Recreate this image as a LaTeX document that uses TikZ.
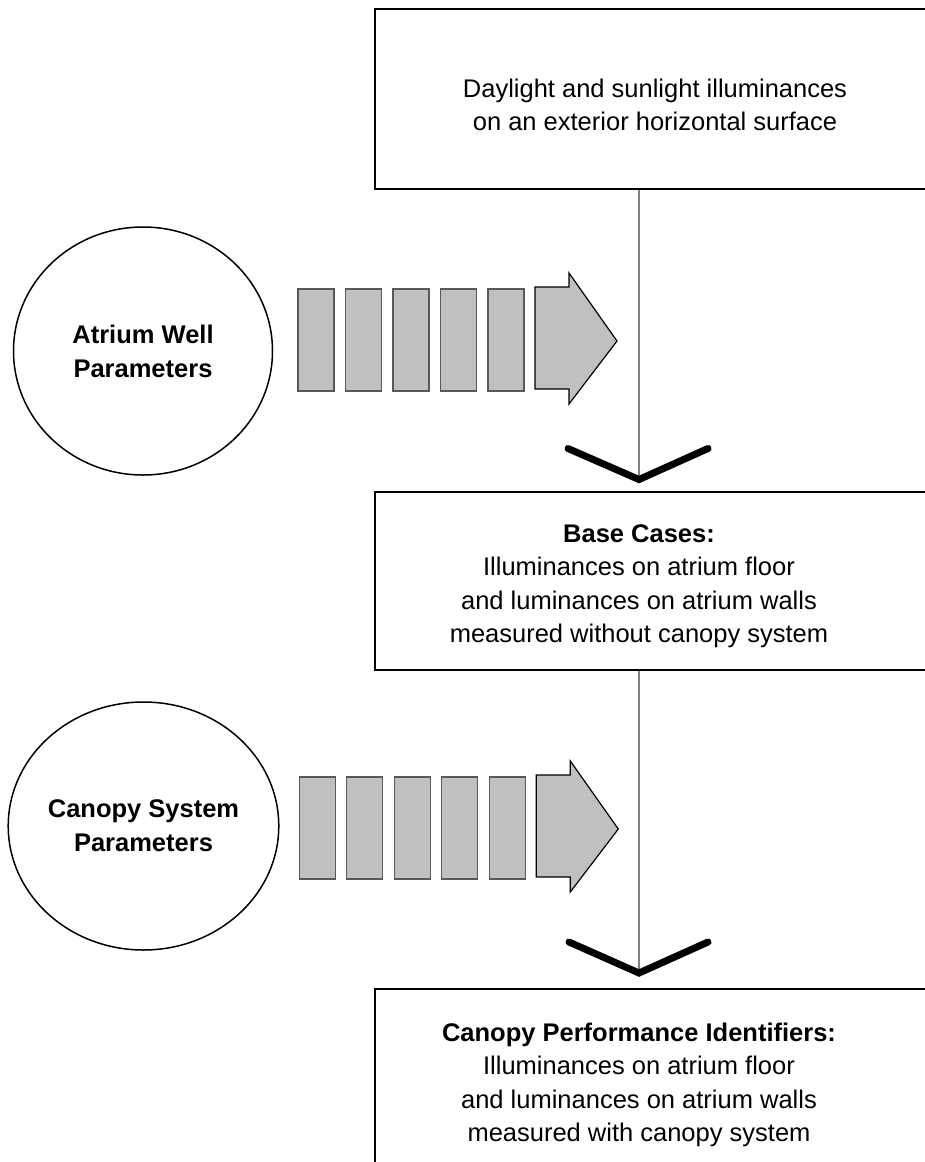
\documentclass[tikz,border=0pt]{standalone}
\usepackage{fontspec}
\setmainfont{Liberation Sans}
\usetikzlibrary{calc,shapes.geometric}
\definecolor{blockgray}{HTML}{C0C0C0}
\definecolor{rimgray}{HTML}{595959}
\definecolor{linkgray}{HTML}{808080}

\begin{document}
\begin{tikzpicture}[
  x=0.5pt, y=-0.5pt,
  font=\fontsize{12.75}{16.75}\selectfont,
  frame/.style={
    draw=black,
    line width=1pt,
    anchor=north west,
    minimum width=310pt,
    minimum height=89pt,
    inner sep=0pt
  },
  boxtext/.style={align=center, inner sep=0pt},
  param/.style={
    ellipse,
    draw=black,
    line width=0.75pt,
    minimum width=129.5pt,
    minimum height=124pt,
    inner sep=0pt,
    align=center,
    font=\fontsize{12.75}{17}\selectfont\bfseries
  },
  slab/.style={
    draw=rimgray,
    fill=blockgray,
    line width=0.6pt,
    minimum width=18pt,
    minimum height=51pt,
    inner sep=0pt
  },
  blockarrow/.style={draw=black, fill=blockgray, line width=0.6pt, line join=miter},
  link/.style={draw=linkgray, line width=0.6pt},
  chevron/.style={draw=black, line width=3.5pt, line cap=round, line join=miter}
]
\useasboundingbox (0,0) rectangle (925,1162);
\clip (0,0) rectangle (925,1162);

% boxes down the right side
\node[frame, minimum height=90pt] (skybox) at (374,8.3) {};
\node[boxtext] (skytext) at (655,105)
  {Daylight and sunlight illuminances\\on an exterior horizontal surface};

\node[frame] (basebox) at (374,491) {};
\node[boxtext] (basetext) at (639,586)
  {\textbf{Base Cases:}\\Illuminances on atrium floor\\and luminances on atrium walls\\measured without canopy system};

\node[frame] (perfbox) at (374,988) {};
\node[boxtext] (perftext) at (639,1085)
  {\textbf{Canopy Performance Identifiers:}\\Illuminances on atrium floor\\and luminances on atrium walls\\measured with canopy system};

% parameter inputs
\node[param] (atrium) at (143,351) {Atrium Well\\Parameters};
\node[param] (canopy) at (143.5,826) {Canopy System\\Parameters};

\foreach \k/\yc/\dx in {1/341/0, 2/829/1.3} {
  \foreach \i in {0,...,4}
    \node[slab] (slab\k\i) at (316+\dx+47.5*\i, \yc-1) {};
  \draw[blockarrow] (535+\dx,\yc-54) -- (569+\dx,\yc-54) -- (569+\dx,\yc-68)
    -- (617+\dx,\yc) -- (569+\dx,\yc+63) -- (569+\dx,\yc+48) -- (535+\dx,\yc+48) -- cycle;
}

% flow lines
\coordinate (tip1) at (639,479.5);
\coordinate (tip2) at (639,973);

\draw[link] (skybox.south -| tip1) -- (tip1);
\draw[link] (basebox.south -| tip1) -- (tip2);
\draw[chevron] ($(tip1)+(-71,-31)$) -- (tip1) -- ($(tip1)+(69,-31)$);
\draw[chevron] ($(tip2)+(-70,-31)$) -- (tip2) -- ($(tip2)+(69,-31)$);

\end{tikzpicture}
\end{document}
